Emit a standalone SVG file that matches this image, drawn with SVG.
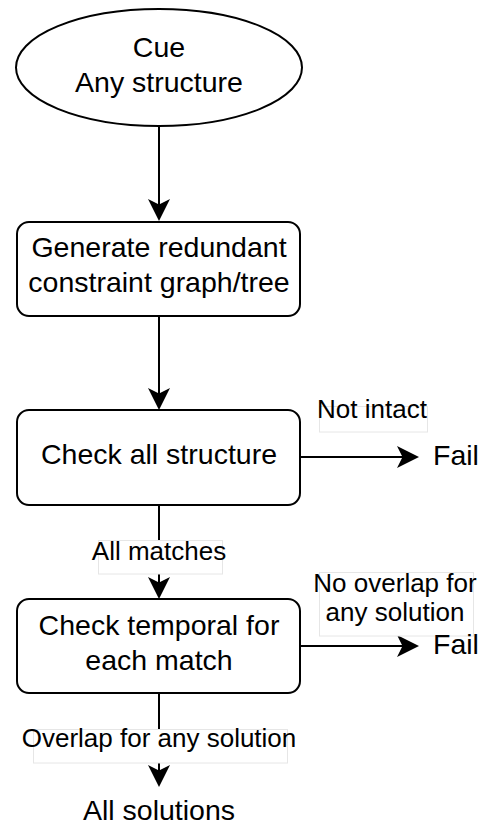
<svg xmlns="http://www.w3.org/2000/svg" width="481" height="826" viewBox="0 0 481 826">
  <style>
    .shape { fill: #ffffff; stroke: #000000; stroke-width: 2; }
    .edge { fill: none; stroke: #000000; stroke-width: 2; }
    .t { font-family: "Liberation Sans", Arial, Helvetica, sans-serif; font-size: 28.5px; fill: #000000; text-anchor: middle; }
    .lt { font-family: "Liberation Sans", Arial, Helvetica, sans-serif; font-size: 26px; fill: #000000; text-anchor: middle; }
    .lbg { fill: #ffffff; stroke: #e6e6e6; stroke-width: 1; }
  </style>
  <defs>
    <marker id="arrow" markerUnits="userSpaceOnUse" markerWidth="22" markerHeight="22" viewBox="0 0 20 20" refX="10" refY="10" orient="auto">
      <path d="M20,10 L0,0 L5,10 L0,20 Z" fill="#000000"/>
    </marker>
  </defs>

  <g id="connectors">
    <line class="edge" x1="159" y1="126" x2="159" y2="210" marker-end="url(#arrow)"/>
    <line class="edge" x1="159" y1="316" x2="159" y2="399" marker-end="url(#arrow)"/>
    <line class="edge" x1="159" y1="505" x2="159" y2="588" marker-end="url(#arrow)"/>
    <line class="edge" x1="300" y1="457" x2="408" y2="457" marker-end="url(#arrow)"/>
    <line class="edge" x1="300" y1="646" x2="408" y2="646" marker-end="url(#arrow)"/>
    <line class="edge" x1="159" y1="693" x2="159" y2="776" marker-end="url(#arrow)"/>
  </g>

  <g id="label-not-intact">
    <rect class="lbg" x="319.5" y="406.5" width="108" height="25.5"/>
    <text class="lt" x="372" y="418">Not intact</text>
  </g>
  <g id="label-all-matches">
    <rect class="lbg" x="98.5" y="540.5" width="124" height="33.5"/>
    <text class="lt" x="159" y="560">All matches</text>
  </g>
  <g id="label-no-overlap">
    <rect class="lbg" x="319.5" y="572.5" width="154" height="63.5"/>
    <text class="lt" x="395" y="592">No overlap for</text>
    <text class="lt" x="395" y="621">any solution</text>
  </g>
  <g id="label-overlap">
    <rect class="lbg" x="33.5" y="729.5" width="254" height="33.5"/>
    <text class="lt" x="159" y="747">Overlap for any solution</text>
  </g>

  <g id="node-cue">
    <ellipse class="shape" cx="159" cy="67.5" rx="143" ry="58.5"/>
    <text class="t" x="159" y="57">Cue</text>
    <text class="t" x="159" y="92">Any structure</text>
  </g>
  <g id="node-generate">
    <rect class="shape" x="17" y="222" width="283" height="94" rx="12" ry="12"/>
    <text class="t" x="159" y="257">Generate redundant</text>
    <text class="t" x="159" y="292">constraint graph/tree</text>
  </g>
  <g id="node-check-structure">
    <rect class="shape" x="17" y="410" width="283" height="95" rx="12" ry="12"/>
    <text class="t" x="159" y="464">Check all structure</text>
  </g>
  <g id="node-fail-1">
    <text class="t" x="433" y="465" style="text-anchor:start">Fail</text>
  </g>
  <g id="node-check-temporal">
    <rect class="shape" x="17" y="599" width="283" height="94" rx="12" ry="12"/>
    <text class="t" x="159" y="635">Check temporal for</text>
    <text class="t" x="159" y="670">each match</text>
  </g>
  <g id="node-fail-2">
    <text class="t" x="433" y="654" style="text-anchor:start">Fail</text>
  </g>
  <g id="node-all-solutions">
    <text class="t" x="159" y="820">All solutions</text>
  </g>
</svg>
